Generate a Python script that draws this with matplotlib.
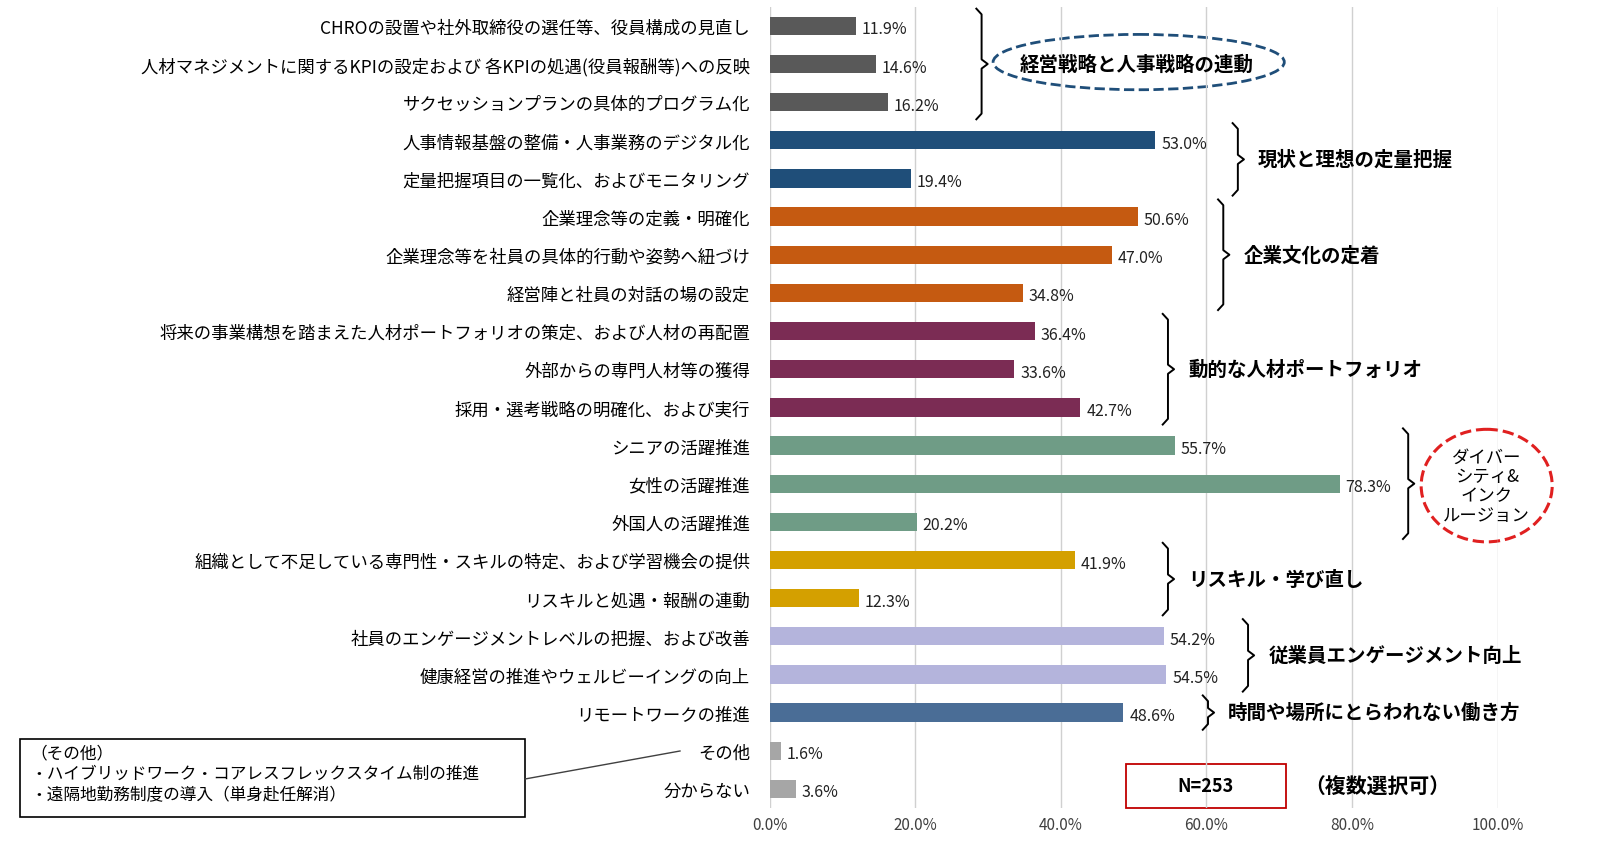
import matplotlib
matplotlib.use("Agg")
import matplotlib.pyplot as plt
from matplotlib.patches import Ellipse, Rectangle
plt.rcParams["font.family"] = "Noto Sans CJK JP"

categories = ["CHROの設置や社外取締役の選任等、役員構成の見直し",
 "人材マネジメントに関するKPIの設定および 各KPIの処遇(役員報酬等)への反映",
 "サクセッションプランの具体的プログラム化",
 "人事情報基盤の整備・人事業務のデジタル化",
 "定量把握項目の一覧化、およびモニタリング",
 "企業理念等の定義・明確化",
 "企業理念等を社員の具体的行動や姿勢へ紐づけ",
 "経営陣と社員の対話の場の設定",
 "将来の事業構想を踏まえた人材ポートフォリオの策定、および人材の再配置",
 "外部からの専門人材等の獲得",
 "採用・選考戦略の明確化、および実行",
 "シニアの活躍推進", "女性の活躍推進", "外国人の活躍推進",
 "組織として不足している専門性・スキルの特定、および学習機会の提供",
 "リスキルと処遇・報酬の連動",
 "社員のエンゲージメントレベルの把握、および改善",
 "健康経営の推進やウェルビーイングの向上",
 "リモートワークの推進", "その他", "分からない"]
values = [11.9, 14.6, 16.2, 53.0, 19.4, 50.6, 47.0, 34.8, 36.4, 33.6, 42.7,
          55.7, 78.3, 20.2, 41.9, 12.3, 54.2, 54.5, 48.6, 1.6, 3.6]
colors = ["#595959"]*3 + ["#1F4E79"]*2 + ["#C55A11"]*3 + ["#7B2C54"]*3 + \
         ["#6F9C86"]*3 + ["#D4A000"]*2 + ["#B4B4DC"]*2 + ["#4A6D96"] + ["#A6A6A6"]*2
groups = [(0, 2, 28.4, "経営戦略と人事戦略の連動"),
          (3, 4, 63.6, "現状と理想の定量把握"),
          (5, 7, 61.6, "企業文化の定着"),
          (8, 10, 54.0, "動的な人材ポートフォリオ"),
          (11, 13, 87.0, ""),
          (14, 15, 54.0, "リスキル・学び直し"),
          (16, 17, 65.0, "従業員エンゲージメント向上"),
          (18, 18, 59.5, "時間や場所にとらわれない働き方")]
ticks = [0, 20, 40, 60, 80, 100]
tick_labels = ["0.0%", "20.0%", "40.0%", "60.0%", "80.0%", "100.0%"]

fig = plt.figure(figsize=(16, 8.62), dpi=100)
ax = fig.add_axes([0.481, 0.0615, 0.455, 0.9295])
y = list(range(len(values)))
ax.barh(y, values, color=colors, height=0.48, zorder=3)
ax.set_ylim(len(values) - 0.5, -0.5)
ax.set_xlim(0, 100)
ax.set_yticks(y)
ax.set_yticklabels(categories, fontsize=12.5)
ax.set_xticks(ticks)
ax.set_xticklabels(tick_labels, fontsize=11, color="#404040")
ax.tick_params(length=0, pad=14)
ax.tick_params(axis="x", pad=6)
for s in ax.spines.values():
    s.set_visible(False)
ax.grid(axis="x", color="#D0D0D0", lw=1, zorder=0)
for i, v in enumerate(values):
    ax.text(v + 0.8, i + 0.08, f"{v:.1f}%", va="center", fontsize=11.5, color="#222222")

for a, b, x, lab in groups:
    t, bm = a - 0.45, b + 0.45
    mid = (t + bm) / 2
    w = 1.2
    ax.plot([x, x + w*0.6, x + w*0.6, x + w*1.3, x + w*0.6, x + w*0.6, x],
            [t, t + 0.15, mid - 0.12, mid, mid + 0.12, bm - 0.15, bm],
            color="black", lw=1.4, clip_on=False)
    if lab:
        tx = x + 3.5
        if a == 0:
            tx = x + 6
        ax.text(tx, mid, lab, va="center", ha="left", fontsize=14, fontweight="bold", clip_on=False)

ax.add_patch(Ellipse((50.7, 0.95), 40, 1.45, fill=False, ls="--", lw=2, ec="#1F4E79", clip_on=False))
ax.add_patch(Ellipse((98.5, 12.05), 18, 2.95, fill=False, ls="--", lw=2.2, ec="#E02020", clip_on=False))
ax.text(98.5, 12.05, "ダイバー\nシティ&\nインク\nルージョン", ha="center", va="center",
        fontsize=12.5, linespacing=1.1, clip_on=False)

ax.add_patch(Rectangle((48.9, 20.5), 22, -1.15, fill=False, ec="#C00000", lw=1.3, clip_on=False))
ax.text(59.9, 19.92, "N=253", ha="center", va="center", fontsize=13, fontweight="bold", clip_on=False)
ax.text(73.5, 19.92, "（複数選択可）", ha="left", va="center", fontsize=15, fontweight="bold", clip_on=False)

fig.patches.append(Rectangle((20/1600, 1-818/862), 505/1600, 78/862, transform=fig.transFigure,
                             fill=False, ec="black", lw=1.2))
fig.text(30/1600, 1-745/862, "（その他）\n・ハイブリッドワーク・コアレスフレックスタイム制の推進\n・遠隔地勤務制度の導入（単身赴任解消）",
         va="top", ha="left", fontsize=12, linespacing=1.3)
fig.lines.append(plt.Line2D([525/1600, 680/1600], [1-780/862, 1-752/862], transform=fig.transFigure,
                            color="#404040", lw=1))

fig.savefig("out.png", dpi=100)
